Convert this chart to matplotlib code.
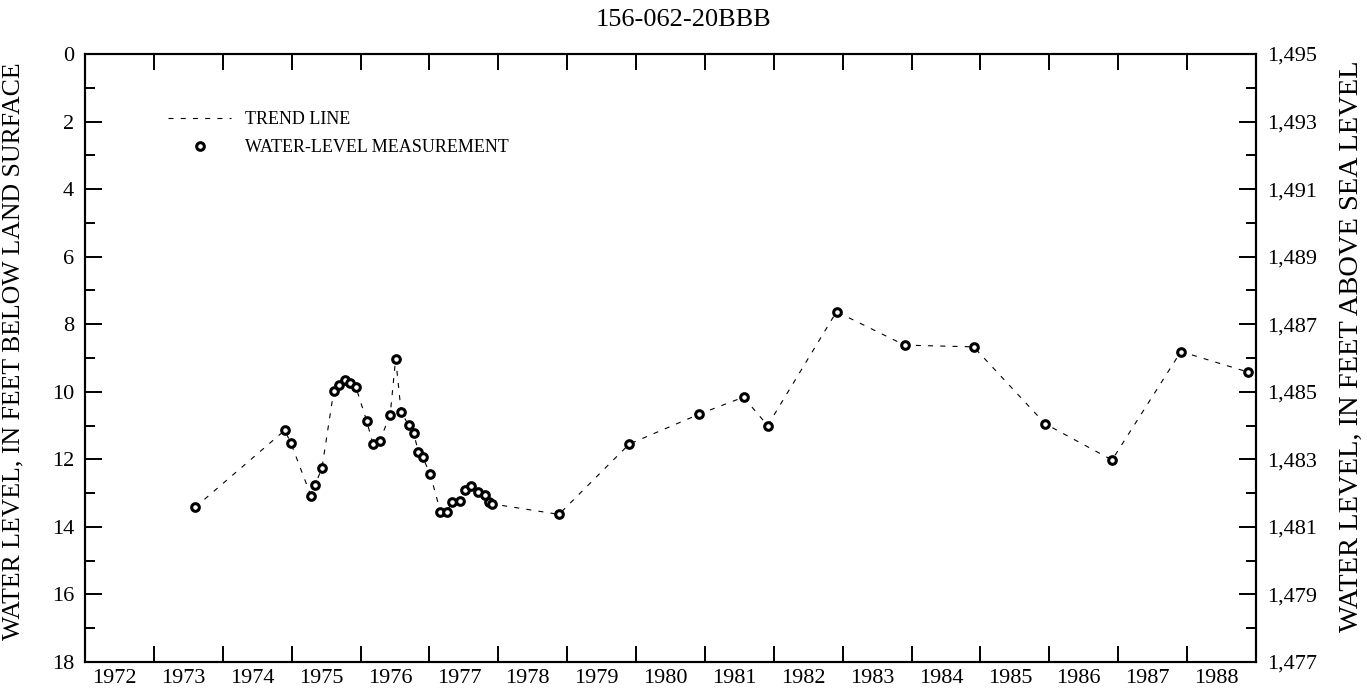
import matplotlib
matplotlib.use("Agg")
import matplotlib.pyplot as plt
import matplotlib.transforms as mtransforms
import numpy as np
from matplotlib.ticker import MultipleLocator, FuncFormatter

plt.rcParams['font.family'] = ['Liberation Serif', 'DejaVu Serif']

land_surface = 1495

dates = [1973.60, 1974.90, 1974.99, 1975.28, 1975.34, 1975.44, 1975.61, 1975.68,
         1975.78, 1975.85, 1975.93, 1976.09, 1976.18, 1976.28, 1976.43, 1976.51,
         1976.59, 1976.70, 1976.77, 1976.84, 1976.90, 1977.01, 1977.16, 1977.25,
         1977.33, 1977.44, 1977.52, 1977.60, 1977.70, 1977.80, 1977.87, 1977.91,
         1978.88, 1979.90, 1980.92, 1981.56, 1981.91, 1982.91, 1983.90, 1984.90,
         1985.94, 1986.91, 1987.91, 1988.89]
depth = [13.42, 11.14, 11.53, 13.08, 12.76, 12.25, 9.99, 9.79,
         9.66, 9.73, 9.85, 10.87, 11.55, 11.45, 10.68, 9.02,
         10.61, 10.99, 11.22, 11.78, 11.93, 12.43, 13.55, 13.55,
         13.27, 13.23, 12.92, 12.78, 12.97, 13.07, 13.25, 13.32,
         13.63, 11.55, 10.66, 10.16, 11.00, 7.63, 8.62, 8.67,
         10.95, 12.02, 8.81, 9.42]
years = list(range(1972, 1989))

fig = plt.figure(figsize=(13.67, 6.96), dpi=100)
ax = fig.add_axes([0.0622, 0.0489, 0.8566, 0.8735])

ax.plot(dates, depth, color='black', lw=0.8, linestyle=(0, (4.5, 6.5)),
        label='TREND LINE')
ax.plot(dates, depth, linestyle='none', marker='o', ms=5.5, mew=2.2,
        mec='black', mfc='white', clip_on=False, label='WATER-LEVEL MEASUREMENT')

ax.set_xlim(1972, 1989)
ax.set_ylim(18, 0)

# year boundaries get the ticks, the year names sit between them
ax.xaxis.set_major_locator(MultipleLocator(1))
ax.xaxis.set_major_formatter(plt.NullFormatter())
ax.set_xticks([y + 0.5 for y in years], minor=True)
ax.set_xticklabels([str(y) for y in years], minor=True)
ax.tick_params(axis='x', which='major', direction='in', length=11.5, width=1.4,
               top=True, bottom=True)
ax.tick_params(axis='x', which='minor', length=0, labelsize=16, pad=5)
shift = mtransforms.ScaledTranslation(-5 / 100, 0, fig.dpi_scale_trans)
for lab in ax.get_xticklabels(minor=True):
    lab.set_transform(lab.get_transform() + shift)

ax.yaxis.set_major_locator(MultipleLocator(2))
ax.yaxis.set_minor_locator(MultipleLocator(1))
ax.tick_params(axis='y', which='major', direction='in', length=12, width=1.4,
               labelsize=16, pad=8)
ax.tick_params(axis='y', which='minor', direction='in', length=7, width=1.4)
for s in ax.spines.values():
    s.set_linewidth(1.5)

ax2 = ax.twinx()
ax2.set_ylim(land_surface - 18, land_surface)
ax2.set_yticks(np.arange(land_surface - 18, land_surface + 1, 2))
ax2.yaxis.set_minor_locator(MultipleLocator(1))
ax2.yaxis.set_major_formatter(FuncFormatter(lambda v, p: f'{int(v):,}'))
ax2.tick_params(axis='y', which='major', direction='in', length=12, width=1.4,
                labelsize=16, pad=8)
ax2.tick_params(axis='y', which='minor', direction='in', length=7, width=1.4)
for s in ax2.spines.values():
    s.set_linewidth(1.5)

ax.set_ylabel('WATER LEVEL, IN FEET BELOW LAND SURFACE', fontsize=18.5)
ax.yaxis.set_label_coords(-0.052, 0.511)
ax2.set_ylabel('WATER LEVEL, IN FEET ABOVE SEA LEVEL', fontsize=20.5)
ax2.yaxis.set_label_coords(1.071, 0.52)
ax.set_title('156-062-20BBB', fontsize=19, pad=20, x=0.5107)

ax.legend(loc='upper left', bbox_to_anchor=(0.057, 0.933), frameon=False,
          fontsize=13, handlelength=3.5, handletextpad=0.75, labelspacing=0.6)

fig.savefig('out.png', dpi=100)
